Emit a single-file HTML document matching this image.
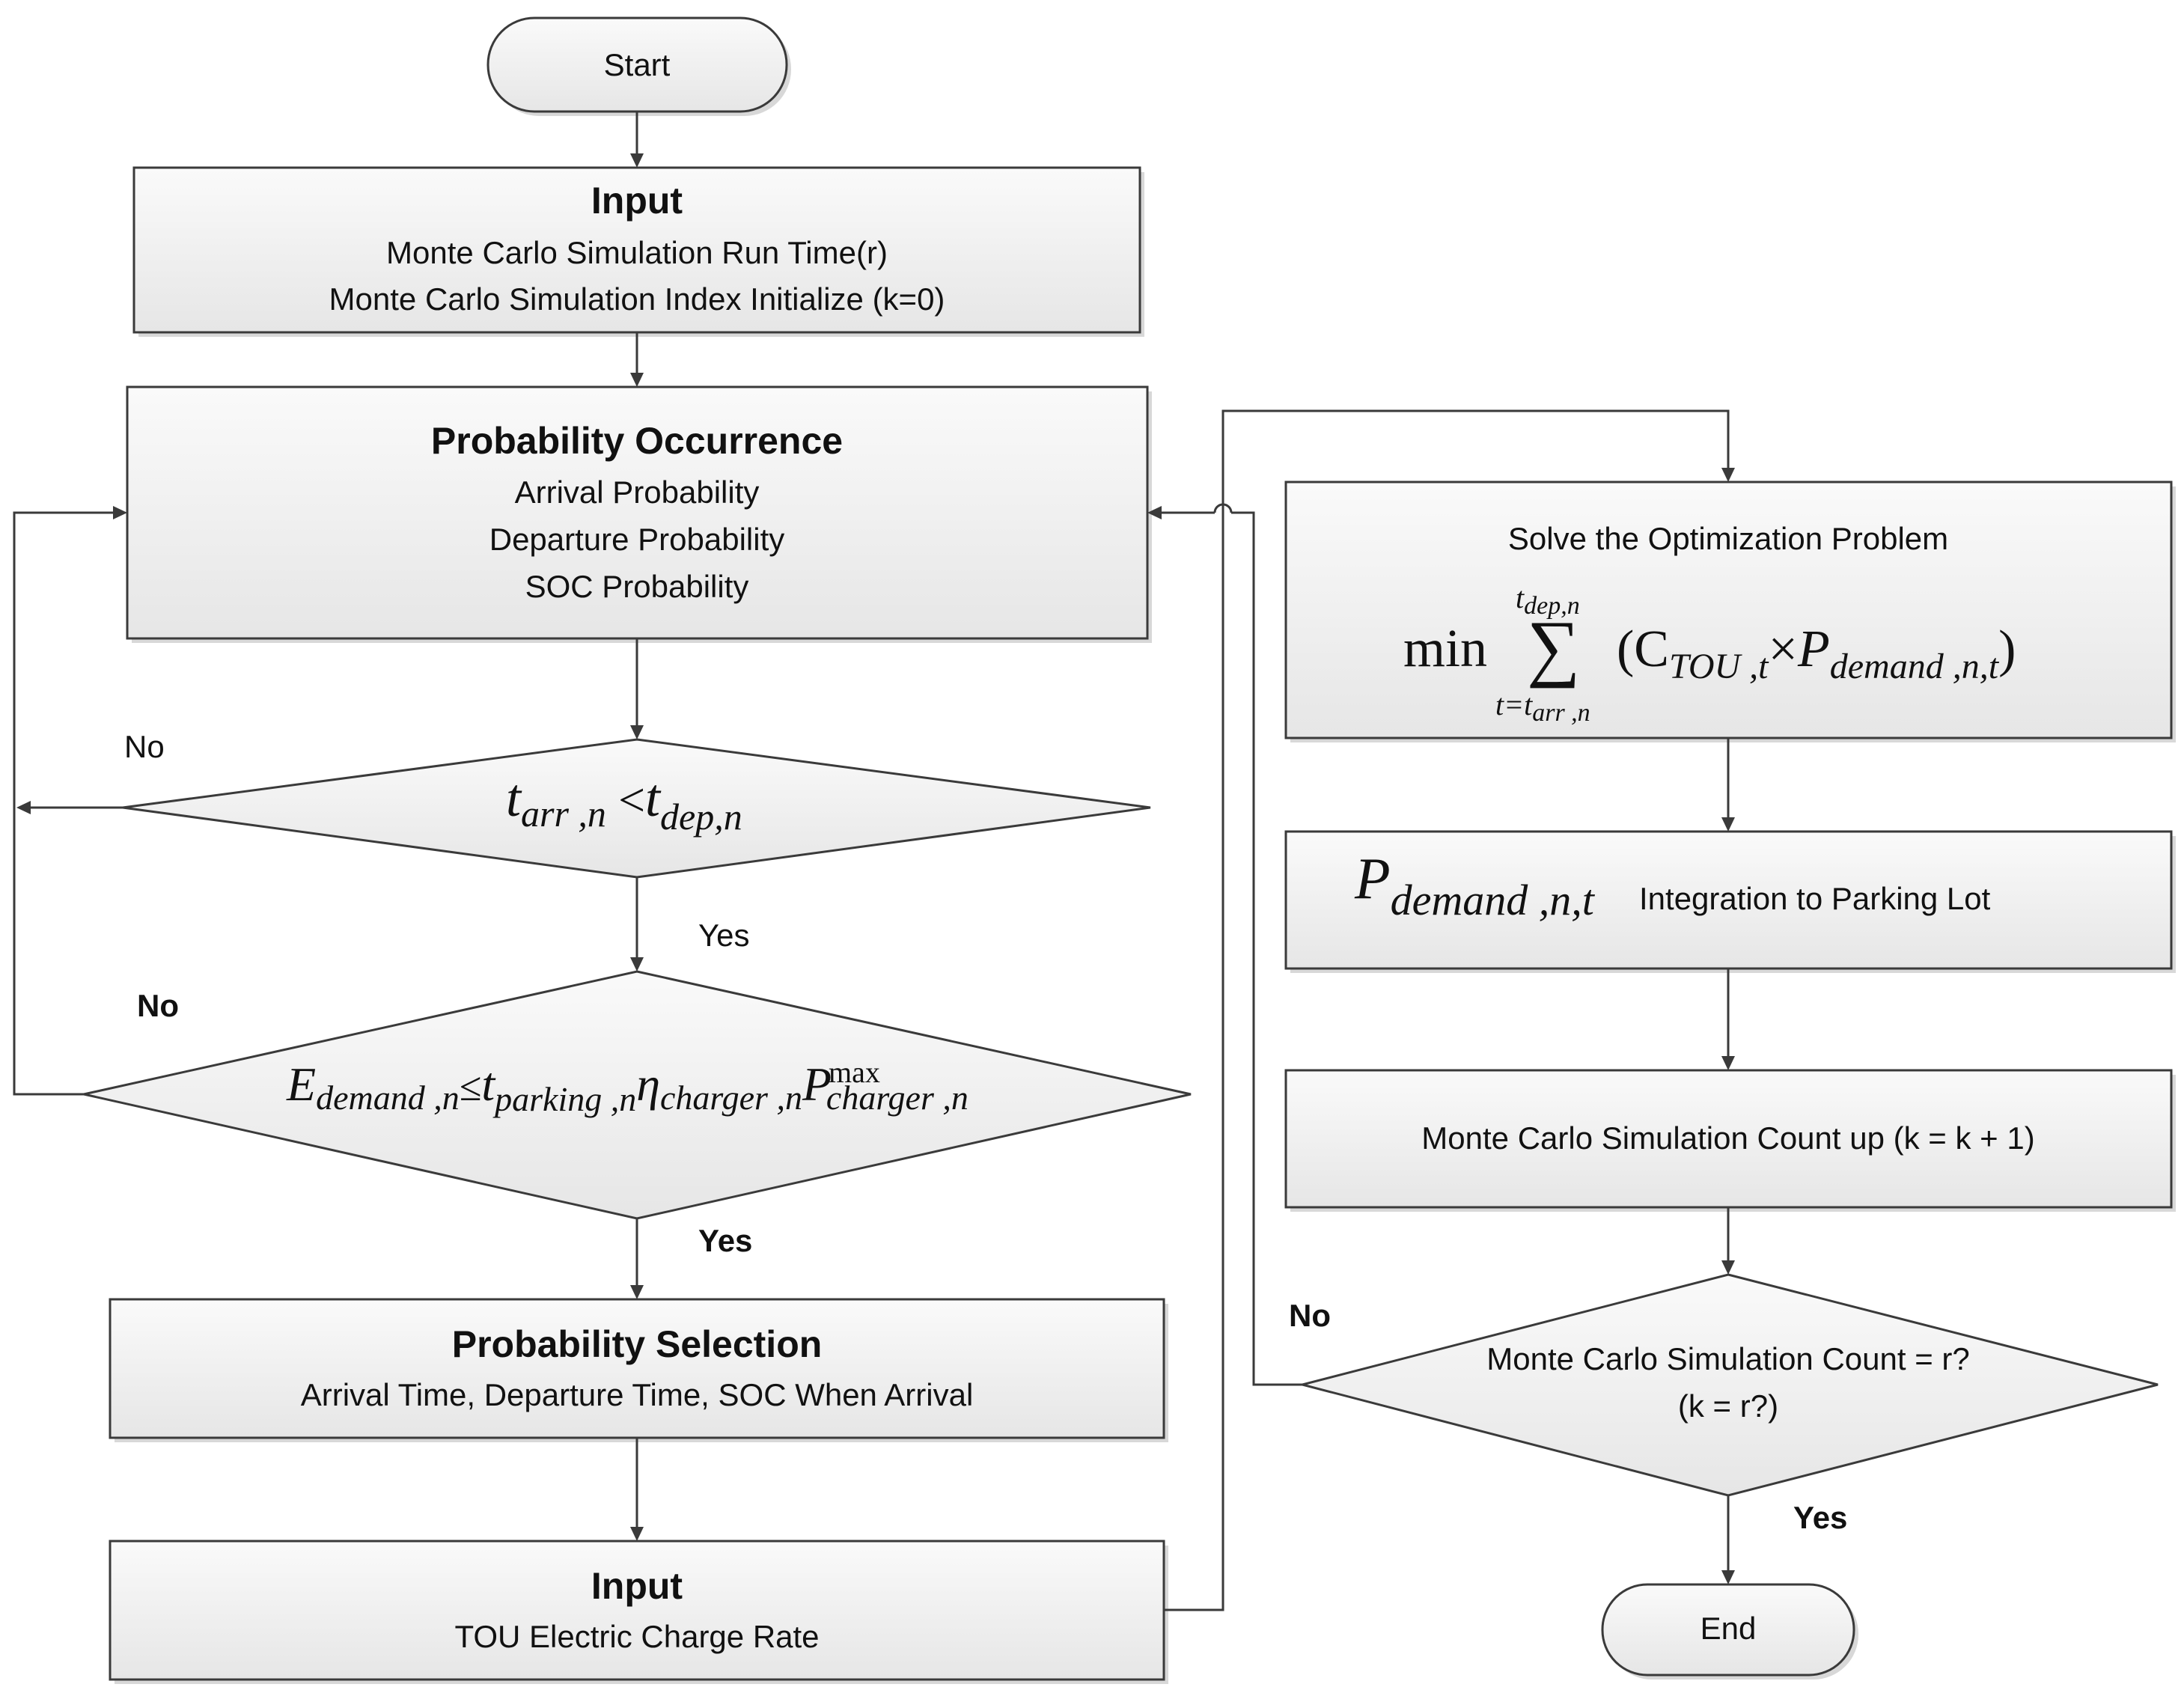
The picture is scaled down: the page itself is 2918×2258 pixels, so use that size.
<!DOCTYPE html>
<html><head><meta charset="utf-8"><style>
html,body{margin:0;padding:0;background:#fff}
svg{display:block}
text{font-family:"Liberation Sans",sans-serif;fill:#111}
.t{font-size:42px}
.b{font-size:50px;font-weight:bold}
.m{font-family:"Liberation Serif",serif;font-style:italic}
.s{font-family:"Liberation Serif",serif}
.lb{font-size:42px}
.lbb{font-size:42px;font-weight:bold}
</style></head><body>
<svg width="2918" height="2258" viewBox="0 0 2918 2258" xmlns="http://www.w3.org/2000/svg">
<defs>
<linearGradient id="g" x1="0" y1="0" x2="0" y2="1">
<stop offset="0" stop-color="#fafafa"/><stop offset="1" stop-color="#e6e6e6"/>
</linearGradient>
</defs>
<g fill="#d8d8d8">
<rect x="658" y="30" width="399" height="125" rx="62"/>
<rect x="185" y="230" width="1344" height="220"/>
<rect x="176" y="523" width="1363" height="336"/>
<rect x="153" y="1742" width="1408" height="185"/>
<rect x="153" y="2065" width="1408" height="185"/>
<rect x="1724" y="650" width="1183" height="342"/>
<rect x="1724" y="1117" width="1183" height="183"/>
<rect x="1724" y="1436" width="1183" height="183"/>
<rect x="2147" y="2123" width="336" height="121" rx="60"/>
</g>
<g fill="url(#g)" stroke="#3a3a3a" stroke-width="3">
<rect x="652" y="24" width="399" height="125" rx="62"/>
<rect x="179" y="224" width="1344" height="220"/>
<rect x="170" y="517" width="1363" height="336"/>
<polygon points="851,988 1537,1079 851,1172 164,1079"/>
<polygon points="851,1298 1591,1462 851,1628 112,1462"/>
<rect x="147" y="1736" width="1408" height="185"/>
<rect x="147" y="2059" width="1408" height="185"/>
<rect x="1718" y="644" width="1183" height="342"/>
<rect x="1718" y="1111" width="1183" height="183"/>
<rect x="1718" y="1430" width="1183" height="183"/>
<polygon points="2309,1703 2883,1850 2309,1998 1740,1850"/>
<rect x="2141" y="2117" width="336" height="121" rx="60"/>
</g>
<g stroke="#3a3a3a" stroke-width="3" fill="none">
<line x1="851" y1="149" x2="851" y2="210"/>
<line x1="851" y1="444" x2="851" y2="503"/>
<line x1="851" y1="853" x2="851" y2="974"/>
<line x1="851" y1="1172" x2="851" y2="1284"/>
<line x1="851" y1="1628" x2="851" y2="1722"/>
<line x1="851" y1="1921" x2="851" y2="2045"/>
<polyline points="164,1079 34,1079"/>
<polyline points="112,1462 19,1462 19,685 156,685"/>
<polyline points="1555,2151 1634,2151 1634,549 2309,549 2309,630"/>
<polyline points="1740,1850 1675,1850 1675,685 1645,685"/>
<path d="M1645,685 A11,11 0 0 0 1623,685"/>
<polyline points="1623,685 1547,685"/>
<line x1="2309" y1="986" x2="2309" y2="1097"/>
<line x1="2309" y1="1294" x2="2309" y2="1416"/>
<line x1="2309" y1="1613" x2="2309" y2="1689"/>
<line x1="2309" y1="1998" x2="2309" y2="2103"/>
</g>
<g fill="#3a3a3a">
<polygon points="851,224 842,205 860,205"/>
<polygon points="851,517 842,498 860,498"/>
<polygon points="851,988 842,969 860,969"/>
<polygon points="851,1298 842,1279 860,1279"/>
<polygon points="851,1736 842,1717 860,1717"/>
<polygon points="851,2059 842,2040 860,2040"/>
<polygon points="22,1079 41,1070 41,1088"/>
<polygon points="170,685 151,676 151,694"/>
<polygon points="1533,685 1552,676 1552,694"/>
<polygon points="2309,644 2300,625 2318,625"/>
<polygon points="2309,1111 2300,1092 2318,1092"/>
<polygon points="2309,1430 2300,1411 2318,1411"/>
<polygon points="2309,1703 2300,1684 2318,1684"/>
<polygon points="2309,2117 2300,2098 2318,2098"/>
</g>
<g text-anchor="middle">
<text class="t" x="851" y="101">Start</text>
<text class="b" x="851" y="285">Input</text>
<text class="t" x="851" y="352">Monte Carlo Simulation Run Time(r)</text>
<text class="t" x="851" y="414">Monte Carlo Simulation Index Initialize (k=0)</text>
<text class="b" x="851" y="606">Probability Occurrence</text>
<text class="t" x="851" y="672">Arrival Probability</text>
<text class="t" x="851" y="735">Departure Probability</text>
<text class="t" x="851" y="798">SOC Probability</text>
<text class="b" x="851" y="1813">Probability Selection</text>
<text class="t" x="851" y="1878">Arrival Time, Departure Time, SOC When Arrival</text>
<text class="b" x="851" y="2136">Input</text>
<text class="t" x="851" y="2201">TOU Electric Charge Rate</text>
<text class="t" x="2309" y="734">Solve the Optimization Problem</text>
<text class="t" x="2309" y="1535">Monte Carlo Simulation Count up (k  = k + 1)</text>
<text class="t" x="2309" y="1830">Monte Carlo Simulation Count = r?</text>
<text class="t" x="2309" y="1893">(k = r?)</text>
<text class="t" x="2309" y="2190">End</text>
</g>
<text class="m" x="676" y="1090" font-size="72">t<tspan font-size="50" dy="14">arr ,n</tspan><tspan font-style="normal" font-size="64" dy="-14"> &lt;</tspan>t<tspan font-size="50" dy="18">dep,n</tspan></text>
<text class="m" x="383" y="1470" font-size="64">E<tspan font-size="46" dy="12">demand ,n</tspan><tspan font-style="normal" font-size="54" dy="-12">≤</tspan>t<tspan font-size="46" dy="14">parking ,n</tspan><tspan font-size="64" dy="-14">η</tspan><tspan font-size="46" dy="12">charger ,n</tspan><tspan font-size="64" dy="-12">P</tspan><tspan font-size="40" font-style="normal" dx="-4" dy="-24">max</tspan><tspan font-size="46" dx="-72" dy="36">charger ,n</tspan></text>
<text class="s" x="1875" y="890" font-size="72">min</text>
<text class="s" x="2040" y="898" font-size="100">∑</text>
<text class="m" x="2025" y="812" font-size="40">t<tspan font-size="34" dy="8">dep,n</tspan></text>
<text class="m" x="1998" y="955" font-size="40">t=t<tspan font-size="34" dy="8">arr ,n</tspan></text>
<text class="s" x="2160" y="890" font-size="70">(C<tspan class="m" font-size="48" dy="16">TOU ,t</tspan><tspan dy="-16">×</tspan><tspan class="m">P</tspan><tspan class="m" font-size="48" dy="16">demand ,n,t</tspan><tspan dy="-16">)</tspan></text>
<text x="1810" y="1200" class="m" font-size="78">P<tspan font-size="58" dy="22">demand ,n,t</tspan></text>
<text class="t" x="2190" y="1215">Integration to Parking Lot</text>
<text class="lb" x="166" y="1012">No</text>
<text class="lb" x="933" y="1264">Yes</text>
<text class="lbb" x="183" y="1358">No</text>
<text class="lbb" x="933" y="1672">Yes</text>
<text class="lbb" x="1722" y="1772">No</text>
<text class="lbb" x="2396" y="2042">Yes</text>
</svg>
</body></html>
